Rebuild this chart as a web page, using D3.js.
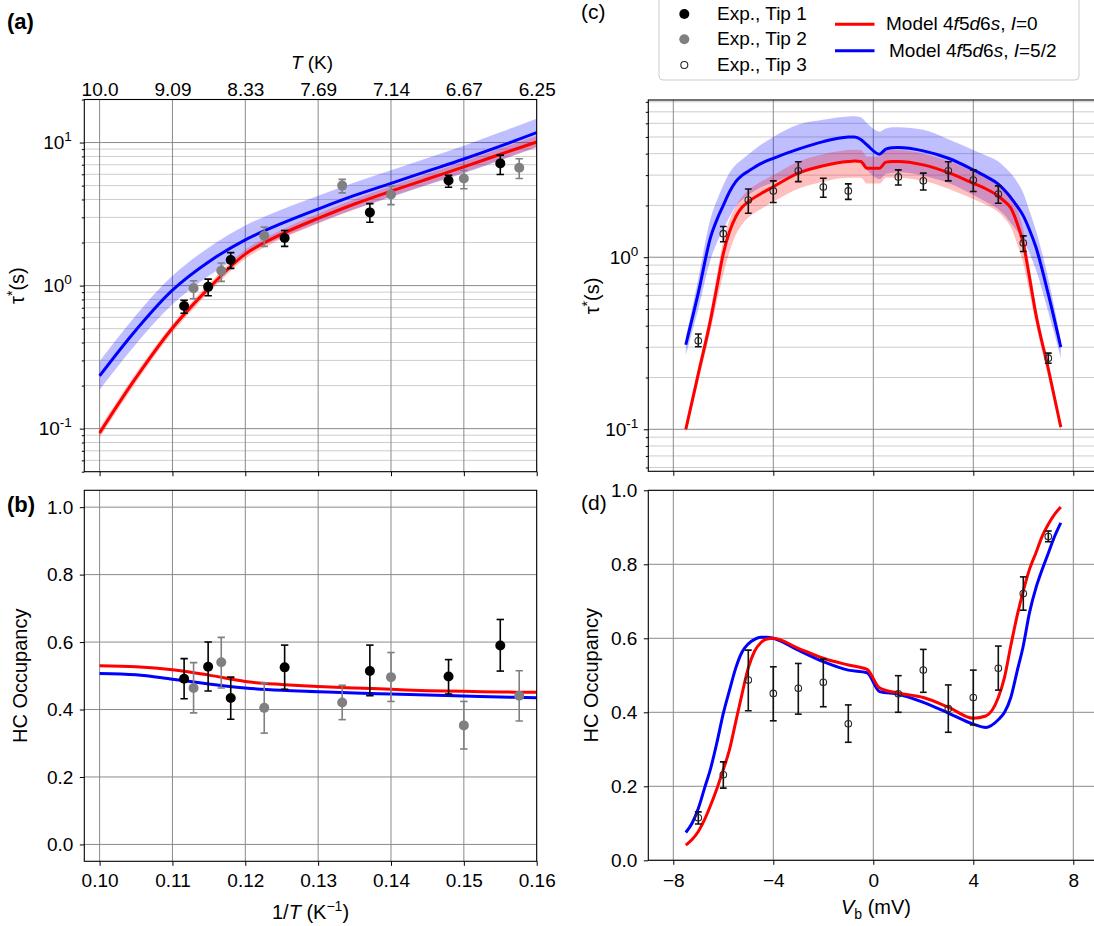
<!DOCTYPE html>
<html>
<head>
<meta charset="utf-8">
<script src="https://cdn.jsdelivr.net/npm/d3@7/dist/d3.min.js"></script>
<style>
html,body{margin:0;padding:0;background:#fff;}
svg{display:block;}
text{font-family:"Liberation Sans",Arial,Helvetica,sans-serif;}
</style>
</head>
<body>
<svg width="1094" height="926"></svg>
<script>
// ---------------- DATA ----------------
// Panels (a),(b): experiment vs 1/T
const invT_tip1 = [0.1116, 0.1149, 0.1180, 0.1254, 0.1371, 0.1479, 0.1550];
const tau_tip1    = [0.72, 0.98, 1.51, 2.15, 3.25, 5.43, 7.15];
const tau_tip1_lo = [0.64, 0.85, 1.32, 1.88, 2.77, 4.87, 5.98];
const tau_tip1_hi = [0.79, 1.11, 1.70, 2.43, 3.74, 5.91, 8.17];
const invT_tip2 = [0.1129, 0.1167, 0.1226, 0.1333, 0.1400, 0.1500, 0.1576];
const tau_tip2    = [0.96, 1.27, 2.23, 5.00, 4.33, 5.61, 6.67];
const tau_tip2_lo = [0.81, 1.07, 1.88, 4.45, 3.68, 4.75, 5.61];
const tau_tip2_hi = [1.08, 1.44, 2.57, 5.53, 4.95, 6.38, 7.70];
const occ_tip1    = [0.491, 0.527, 0.434, 0.525, 0.514, 0.498, 0.590];
const occ_tip1_lo = [0.432, 0.455, 0.371, 0.460, 0.441, 0.446, 0.514];
const occ_tip1_hi = [0.551, 0.600, 0.496, 0.591, 0.591, 0.548, 0.667];
const occ_tip2    = [0.464, 0.540, 0.405, 0.421, 0.496, 0.353, 0.441];
const occ_tip2_lo = [0.390, 0.464, 0.330, 0.370, 0.424, 0.283, 0.366];
const occ_tip2_hi = [0.539, 0.614, 0.479, 0.472, 0.569, 0.424, 0.515];

// model vs 1/T
const invT_model = [0.100, 0.105, 0.110, 0.115, 0.120, 0.125, 0.130, 0.135, 0.140, 0.145, 0.150, 0.155, 0.160];
const tauT_I0     = [0.0933, 0.227, 0.505, 0.96, 1.66, 2.29, 2.95, 3.72, 4.57, 5.56, 6.76, 8.28, 10.1];
const tauT_I0_lo  = [0.086, 0.21, 0.47, 0.89, 1.54, 2.12, 2.72, 3.42, 4.20, 5.10, 6.18, 7.55, 9.2];
const tauT_I0_hi  = [0.101, 0.245, 0.54, 1.03, 1.78, 2.46, 3.18, 4.02, 4.95, 6.05, 7.38, 9.08, 11.1];
const tauT_I52    = [0.234, 0.49, 0.93, 1.47, 2.09, 2.72, 3.43, 4.27, 5.19, 6.31, 7.67, 9.44, 11.75];
const tauT_I52_lo = [0.186, 0.39, 0.74, 1.17, 1.67, 2.17, 2.75, 3.42, 4.15, 5.05, 6.10, 7.50, 9.35];
const tauT_I52_hi = [0.295, 0.62, 1.17, 1.85, 2.63, 3.40, 4.25, 5.25, 6.40, 7.80, 9.50, 11.8, 14.7];
const occT_I0  = [0.530, 0.527, 0.518, 0.502, 0.483, 0.474, 0.468, 0.464, 0.460, 0.456, 0.454, 0.452, 0.451];
const occT_I52 = [0.507, 0.503, 0.490, 0.476, 0.464, 0.457, 0.453, 0.449, 0.446, 0.443, 0.440, 0.437, 0.435];

// Panels (c),(d): experiment vs bias
const Vb_tip3 = [-7, -6, -5, -4, -3, -2, -1, 1, 2, 3, 4, 5, 6, 7];
const tau_tip3    = [0.327, 1.37, 2.15, 2.43, 3.18, 2.56, 2.43, 2.93, 2.78, 3.18, 2.81, 2.33, 1.21, 0.259];
const tau_tip3_lo = [0.302, 1.23, 1.80, 2.08, 2.75, 2.23, 2.17, 2.63, 2.46, 2.78, 2.41, 2.06, 1.08, 0.242];
const tau_tip3_hi = [0.358, 1.51, 2.49, 2.78, 3.59, 2.88, 2.67, 3.22, 3.08, 3.59, 3.22, 2.60, 1.33, 0.277];
const occ_tip3    = [0.115, 0.231, 0.487, 0.451, 0.465, 0.481, 0.369, 0.450, 0.514, 0.410, 0.440, 0.519, 0.721, 0.875];
const occ_tip3_lo = [0.098, 0.195, 0.404, 0.377, 0.395, 0.415, 0.319, 0.400, 0.454, 0.346, 0.366, 0.460, 0.676, 0.861];
const occ_tip3_hi = [0.131, 0.266, 0.568, 0.523, 0.532, 0.544, 0.420, 0.499, 0.570, 0.474, 0.514, 0.579, 0.766, 0.890];

// model vs bias (tau)
const Vb_tau = [-7.5, -7, -6.5, -6.25, -6, -5.75, -5.5, -5.25, -5, -4.5, -4, -3, -2, -1, -0.75, -0.5, -0.25, 0.25, 0.5, 0.75, 1, 2, 3, 4, 4.5, 5, 5.25, 5.5, 5.75, 6, 6.25, 6.5, 7, 7.5];
const tauV_I0    = [0.1, 0.21, 0.44, 0.68, 1.05, 1.41, 1.72, 1.95, 2.1, 2.34, 2.57, 3.08, 3.4, 3.6, 3.62, 3.6, 3.29, 3.29, 3.57, 3.6, 3.6, 3.44, 3.1, 2.69, 2.5, 2.27, 2.11, 1.93, 1.58, 1.2, 0.76, 0.47, 0.225, 0.103];
const tauV_I0_lo = [0.095, 0.19, 0.38, 0.56, 0.8, 1.08, 1.35, 1.55, 1.7, 1.9, 2.1, 2.5, 2.75, 2.9, 2.9, 2.9, 2.68, 2.68, 2.9, 2.9, 2.9, 2.78, 2.5, 2.18, 2.02, 1.83, 1.68, 1.5, 1.2, 0.92, 0.62, 0.41, 0.2, 0.097];
const tauV_I0_hi = [0.108, 0.23, 0.5, 0.8, 1.25, 1.65, 1.98, 2.25, 2.45, 2.75, 3.0, 3.6, 3.97, 4.2, 4.22, 4.2, 3.85, 3.85, 4.15, 4.2, 4.2, 4.0, 3.62, 3.15, 2.92, 2.66, 2.5, 2.3, 1.9, 1.45, 0.88, 0.52, 0.24, 0.108];
const tauV_I52    = [0.31, 0.62, 1.32, 1.66, 2.0, 2.4, 2.75, 2.99, 3.16, 3.5, 3.76, 4.25, 4.7, 4.99, 5.0, 4.84, 4.49, 3.97, 4.25, 4.33, 4.34, 4.15, 3.76, 3.22, 2.95, 2.66, 2.45, 2.22, 1.98, 1.74, 1.44, 1.15, 0.61, 0.30];
const tauV_I52_lo = [0.27, 0.5, 0.98, 1.22, 1.45, 1.72, 1.98, 2.15, 2.3, 2.55, 2.72, 3.1, 3.4, 3.6, 3.6, 3.5, 3.2, 2.85, 3.05, 3.1, 3.12, 2.98, 2.7, 2.3, 2.1, 1.9, 1.76, 1.58, 1.42, 1.26, 1.05, 0.85, 0.48, 0.26];
const tauV_I52_hi = [0.34, 0.75, 1.7, 2.15, 2.63, 3.1, 3.45, 3.7, 3.95, 4.5, 5.0, 5.9, 6.3, 6.57, 6.6, 6.5, 6.0, 5.37, 5.6, 5.7, 5.7, 5.5, 4.85, 4.2, 3.9, 3.6, 3.35, 3.08, 2.75, 2.36, 1.85, 1.44, 0.75, 0.33];

// model vs bias (occupancy)
const Vb_occ = [-7.5, -7.25, -7, -6.75, -6.5, -6.25, -6, -5.75, -5.5, -5.25, -5, -4.75, -4.5, -4.25, -4, -3, -2, -1, -0.25, 0.25, 1, 2, 3, 4, 4.5, 5, 5.25, 5.5, 5.75, 6, 6.25, 6.5, 6.75, 7, 7.25, 7.5];
const occV_I0  = [0.041, 0.056, 0.078, 0.11, 0.15, 0.195, 0.245, 0.30, 0.375, 0.45, 0.52, 0.565, 0.588, 0.598, 0.60, 0.573, 0.546, 0.528, 0.516, 0.466, 0.452, 0.44, 0.414, 0.384, 0.39, 0.44, 0.495, 0.58, 0.66, 0.728, 0.787, 0.83, 0.875, 0.908, 0.935, 0.955];
const occV_I52 = [0.075, 0.10, 0.14, 0.195, 0.25, 0.32, 0.397, 0.46, 0.52, 0.563, 0.585, 0.597, 0.603, 0.603, 0.60, 0.568, 0.537, 0.514, 0.507, 0.456, 0.449, 0.427, 0.398, 0.368, 0.359, 0.38, 0.40, 0.44, 0.51, 0.58, 0.67, 0.735, 0.785, 0.83, 0.875, 0.912];

// ticks
const invT_ticks = [0.10, 0.11, 0.12, 0.13, 0.14, 0.15, 0.16];
const T_labels = ["10.0", "9.09", "8.33", "7.69", "7.14", "6.67", "6.25"];
const logMajA = [0.1, 1, 10];
const logMinA = [0.05, 0.06, 0.07, 0.08, 0.09, 0.2, 0.3, 0.4, 0.5, 0.6, 0.7, 0.8, 0.9, 2, 3, 4, 5, 6, 7, 8, 9, 20];
const logMajC = [0.1, 1];
const logMinC = [0.06, 0.07, 0.08, 0.09, 0.2, 0.3, 0.4, 0.5, 0.6, 0.7, 0.8, 0.9, 2, 3, 4, 5, 6, 7, 8];
const occTicks = [0.0, 0.2, 0.4, 0.6, 0.8, 1.0];
const VbTicks = [-8, -4, 0, 4, 8];
const tipLabels = ["Exp., Tip 1", "Exp., Tip 2", "Exp., Tip 3"];

// ---------------- DRAWING ----------------
const svg = d3.select("svg");
const FS = 19;
const MAJ = "#8a8a8a", MIN = "#cdcdcd";
const RED = "#ff0000", BLUE = "#0000ff", GRAY = "#808080";

const boxA = {l: 84.3, r: 536.7, t: 99.5, b: 471.7};
const boxB = {l: 84.3, r: 536.7, t: 490.3, b: 861.3};
const boxC = {l: 648.3, r: 1098.3, t: 100, b: 471.3};
const boxD = {l: 648.3, r: 1098.3, t: 490.3, b: 860.3};

const xT = d3.scaleLinear().domain([0.0979, 0.16]).range([boxA.l, boxA.r]);
const yA = d3.scaleLog().domain([0.05, 20]).range([boxA.b, boxA.t]);
const yB = d3.scaleLinear().domain([-0.05, 1.05]).range([boxB.b, boxB.t]);
const xV = d3.scaleLinear().domain([-9, 9]).range([boxC.l, boxC.r]);
const yC = d3.scaleLog().domain([0.057, 8.2]).range([boxC.b, boxC.t]);
const yD = d3.scaleLinear().domain([0, 1]).range([boxD.b, boxD.t]);

function makePanel(id, box) {
  svg.append("clipPath").attr("id", id).append("rect")
    .attr("x", box.l).attr("y", box.t).attr("width", box.r - box.l).attr("height", box.b - box.t);
  return svg.append("g").attr("clip-path", `url(#${id})`);
}
function hgrid(g, box, scale, vals, color) {
  g.append("g").selectAll("line").data(vals).join("line")
    .attr("x1", box.l).attr("x2", box.r)
    .attr("y1", d => scale(d)).attr("y2", d => scale(d))
    .attr("stroke", color).attr("stroke-width", 1);
}
function vgrid(g, box, scale, vals, color) {
  g.append("g").selectAll("line").data(vals).join("line")
    .attr("y1", box.t).attr("y2", box.b)
    .attr("x1", d => scale(d)).attr("x2", d => scale(d))
    .attr("stroke", color).attr("stroke-width", 1);
}
function band(g, xs, lo, hi, xs_, ys_, color, cv) {
  const area = d3.area().x(i => xs_(xs[i])).y0(i => ys_(lo[i])).y1(i => ys_(hi[i])).curve(cv);
  g.append("path").datum(d3.range(xs.length)).attr("d", area).attr("fill", color).attr("fill-opacity", 0.25).attr("stroke", "none");
}
function curve(g, xs, ys, xs_, ys_, color, cv) {
  const line = d3.line().x(i => xs_(xs[i])).y(i => ys_(ys[i])).curve(cv);
  g.append("path").datum(d3.range(xs.length)).attr("d", line).attr("fill", "none")
    .attr("stroke", color).attr("stroke-width", 3);
}
function errbars(g, xs, ys, lo, hi, xs_, ys_, color, cap, r, open) {
  const idx = d3.range(xs.length);
  const eg = g.append("g").attr("stroke", color).attr("stroke-width", 1.6);
  eg.selectAll(".v").data(idx).join("line")
    .attr("x1", i => xs_(xs[i])).attr("x2", i => xs_(xs[i]))
    .attr("y1", i => ys_(lo[i])).attr("y2", i => ys_(hi[i]));
  eg.selectAll(".cl").data(idx).join("line")
    .attr("x1", i => xs_(xs[i]) - cap).attr("x2", i => xs_(xs[i]) + cap)
    .attr("y1", i => ys_(lo[i])).attr("y2", i => ys_(lo[i]));
  eg.selectAll(".ch").data(idx).join("line")
    .attr("x1", i => xs_(xs[i]) - cap).attr("x2", i => xs_(xs[i]) + cap)
    .attr("y1", i => ys_(hi[i])).attr("y2", i => ys_(hi[i]));
  g.append("g").selectAll("circle").data(idx).join("circle")
    .attr("cx", i => xs_(xs[i])).attr("cy", i => ys_(ys[i])).attr("r", r)
    .attr("fill", open ? "none" : color)
    .attr("stroke", open ? "#2a2a2a" : "none").attr("stroke-width", 1.1);
}
function styleAxis(g) {
  g.select(".domain").remove();
  g.attr("font-size", FS).attr("font-family", null);
  g.selectAll(".tick line").attr("stroke", "#000").attr("stroke-width", 1);
  g.selectAll(".tick text").attr("fill", "#000");
  return g;
}
function supLabels(g) {
  g.selectAll(".tick text").each(function (d) {
    const t = d3.select(this);
    t.text("");
    const e = Math.round(Math.log10(d));
    t.append("tspan").text("10");
    t.append("tspan").attr("font-size", 13.5).attr("dy", "-0.6em").text(e < 0 ? "-" + (-e) : String(e));
  });
}
function frame(box) {
  svg.append("rect").attr("x", box.l).attr("y", box.t).attr("width", box.r - box.l).attr("height", box.b - box.t)
    .attr("fill", "none").attr("stroke", "#000").attr("stroke-width", 1.1);
}
const smooth = d3.curveCatmullRom.alpha(0.5);
const mono = d3.curveMonotoneX;

// ---------- Panel (a) ----------
const gA = makePanel("clipA", boxA);
hgrid(gA, boxA, yA, logMinA, MIN);
hgrid(gA, boxA, yA, logMajA, MAJ);
vgrid(gA, boxA, xT, invT_ticks, MAJ);
band(gA, invT_model, tauT_I52_lo, tauT_I52_hi, xT, yA, BLUE, smooth);
band(gA, invT_model, tauT_I0_lo, tauT_I0_hi, xT, yA, RED, smooth);
curve(gA, invT_model, tauT_I0, xT, yA, RED, smooth);
curve(gA, invT_model, tauT_I52, xT, yA, BLUE, smooth);
errbars(gA, invT_tip1, tau_tip1, tau_tip1_lo, tau_tip1_hi, xT, yA, "#000", 3.7, 5, false);
errbars(gA, invT_tip2, tau_tip2, tau_tip2_lo, tau_tip2_hi, xT, yA, GRAY, 3.7, 5, false);
frame(boxA);
{
  const ga = styleAxis(svg.append("g").attr("transform", `translate(${boxA.l},0)`)
    .call(d3.axisLeft(yA).tickValues(logMajA).tickSize(4.5).tickPadding(8).tickSizeOuter(0)));
  supLabels(ga);
  styleAxis(svg.append("g").attr("transform", `translate(${boxA.l},0)`)
    .call(d3.axisLeft(yA).tickValues(logMinA).tickFormat("").tickSize(2.5).tickSizeOuter(0)));
  styleAxis(svg.append("g").attr("transform", `translate(0,${boxA.b})`)
    .call(d3.axisBottom(xT).tickValues(invT_ticks).tickFormat("").tickSize(4.5).tickSizeOuter(0)));
  styleAxis(svg.append("g").attr("transform", `translate(0,${boxA.t})`)
    .call(d3.axisTop(xT).tickValues(invT_ticks).tickFormat((d, i) => T_labels[i]).tickSize(0).tickPadding(3.5).tickSizeOuter(0)));
  const tl = svg.append("text").attr("x", 312).attr("y", 69).attr("text-anchor", "middle").attr("font-size", FS);
  tl.append("tspan").attr("font-style", "italic").text("T");
  tl.append("tspan").text(" (K)");
  const yl = svg.append("text").attr("transform", `translate(24,${(boxA.t + boxA.b) / 2}) rotate(-90)`)
    .attr("text-anchor", "middle").attr("font-size", 20);
  yl.append("tspan").text("τ");
  yl.append("tspan").attr("font-size", 14).attr("dy", -7).text("*");
  yl.append("tspan").attr("dy", 7).text("(s)");
}

// ---------- Panel (b) ----------
const gB = makePanel("clipB", boxB);
hgrid(gB, boxB, yB, occTicks, MAJ);
vgrid(gB, boxB, xT, invT_ticks, MAJ);
curve(gB, invT_model, occT_I0, xT, yB, RED, smooth);
curve(gB, invT_model, occT_I52, xT, yB, BLUE, smooth);
errbars(gB, invT_tip1, occ_tip1, occ_tip1_lo, occ_tip1_hi, xT, yB, "#000", 3.7, 5, false);
errbars(gB, invT_tip2, occ_tip2, occ_tip2_lo, occ_tip2_hi, xT, yB, GRAY, 3.7, 5, false);
frame(boxB);
{
  styleAxis(svg.append("g").attr("transform", `translate(${boxB.l},0)`)
    .call(d3.axisLeft(yB).tickValues(occTicks).tickFormat(d3.format(".1f")).tickSize(4.5).tickPadding(6.5).tickSizeOuter(0)));
  styleAxis(svg.append("g").attr("transform", `translate(0,${boxB.b})`)
    .call(d3.axisBottom(xT).tickValues(invT_ticks).tickFormat(d3.format(".2f")).tickSize(4.5).tickPadding(7.5).tickSizeOuter(0)));
  const xl = svg.append("text").attr("x", 310.5).attr("y", 919).attr("text-anchor", "middle").attr("font-size", 20);
  xl.append("tspan").text("1/");
  xl.append("tspan").attr("font-style", "italic").text("T");
  xl.append("tspan").text(" (K");
  xl.append("tspan").attr("font-size", 14).attr("dy", -8).text("−1");
  xl.append("tspan").attr("dy", 8).text(")");
  svg.append("text").attr("transform", `translate(27,${(boxB.t + boxB.b) / 2}) rotate(-90)`)
    .attr("text-anchor", "middle").attr("font-size", 20).text("HC Occupancy");
}

// ---------- Panel (c) ----------
const gC = makePanel("clipC", boxC);
hgrid(gC, boxC, yC, logMinC, MIN);
hgrid(gC, boxC, yC, logMajC, MAJ);
vgrid(gC, boxC, xV, VbTicks, MAJ);
band(gC, Vb_tau, tauV_I52_lo, tauV_I52_hi, xV, yC, BLUE, mono);
band(gC, Vb_tau, tauV_I0_lo, tauV_I0_hi, xV, yC, RED, mono);
curve(gC, Vb_tau, tauV_I0, xV, yC, RED, mono);
curve(gC, Vb_tau, tauV_I52, xV, yC, BLUE, mono);
errbars(gC, Vb_tip3, tau_tip3, tau_tip3_lo, tau_tip3_hi, xV, yC, "#111", 3.4, 3.3, true);
frame(boxC);
{
  const gc = styleAxis(svg.append("g").attr("transform", `translate(${boxC.l},0)`)
    .call(d3.axisLeft(yC).tickValues(logMajC).tickSize(4.5).tickPadding(5.5).tickSizeOuter(0)));
  supLabels(gc);
  styleAxis(svg.append("g").attr("transform", `translate(${boxC.l},0)`)
    .call(d3.axisLeft(yC).tickValues(logMinC).tickFormat("").tickSize(2.5).tickSizeOuter(0)));
  styleAxis(svg.append("g").attr("transform", `translate(0,${boxC.b})`)
    .call(d3.axisBottom(xV).tickValues(VbTicks).tickFormat("").tickSize(4.5).tickSizeOuter(0)));
  const yl = svg.append("text").attr("transform", `translate(599,296) rotate(-90)`)
    .attr("text-anchor", "middle").attr("font-size", 20);
  yl.append("tspan").text("τ");
  yl.append("tspan").attr("font-size", 14).attr("dy", -7).text("*");
  yl.append("tspan").attr("dy", 7).text("(s)");
}

// ---------- Panel (d) ----------
const gD = makePanel("clipD", boxD);
hgrid(gD, boxD, yD, occTicks, MAJ);
vgrid(gD, boxD, xV, VbTicks, MAJ);
curve(gD, Vb_occ, occV_I52, xV, yD, BLUE, mono);
curve(gD, Vb_occ, occV_I0, xV, yD, RED, mono);
errbars(gD, Vb_tip3, occ_tip3, occ_tip3_lo, occ_tip3_hi, xV, yD, "#111", 3.4, 3.3, true);
frame(boxD);
{
  styleAxis(svg.append("g").attr("transform", `translate(${boxD.l},0)`)
    .call(d3.axisLeft(yD).tickValues(occTicks).tickFormat(d3.format(".1f")).tickSize(4.5).tickPadding(6.5).tickSizeOuter(0)));
  styleAxis(svg.append("g").attr("transform", `translate(0,${boxD.b})`)
    .call(d3.axisBottom(xV).tickValues(VbTicks).tickFormat(d3.format("d")).tickSize(4.5).tickPadding(8.5).tickSizeOuter(0)));
  const xl = svg.append("text").attr("x", 876).attr("y", 914).attr("text-anchor", "middle").attr("font-size", 20);
  xl.append("tspan").attr("font-style", "italic").text("V");
  xl.append("tspan").attr("font-size", 14).attr("dy", 5).text("b");
  xl.append("tspan").attr("dy", -5).text(" (mV)");
  svg.append("text").attr("transform", `translate(598,${(boxD.t + boxD.b) / 2}) rotate(-90)`)
    .attr("text-anchor", "middle").attr("font-size", 20).text("HC Occupancy");
}

// ---------- Panel labels ----------
svg.append("text").attr("x", 7).attr("y", 29).attr("font-size", 22).attr("font-weight", "bold").text("(a)");
svg.append("text").attr("x", 7).attr("y", 512).attr("font-size", 22).attr("font-weight", "bold").text("(b)");
svg.append("text").attr("x", 581).attr("y", 19).attr("font-size", 21).text("(c)");
svg.append("text").attr("x", 581).attr("y", 510).attr("font-size", 21).text("(d)");

// ---------- Legend ----------
{
  const lg = svg.append("g");
  lg.append("rect").attr("x", 659).attr("y", -10).attr("width", 420).attr("height", 90).attr("rx", 4)
    .attr("fill", "#fff").attr("fill-opacity", 0.85).attr("stroke", "#cccccc").attr("stroke-width", 1);
  const rowsY = [14, 39.3, 65];
  const styles = [
    {fill: "#000", stroke: "none", r: 5},
    {fill: GRAY, stroke: "none", r: 5},
    {fill: "none", stroke: "#2a2a2a", r: 3.5}
  ];
  tipLabels.forEach((lab, i) => {
    lg.append("circle").attr("cx", 684.3).attr("cy", rowsY[i]).attr("r", styles[i].r)
      .attr("fill", styles[i].fill).attr("stroke", styles[i].stroke).attr("stroke-width", 1.1);
    lg.append("text").attr("x", 717).attr("y", rowsY[i] + 5.5).attr("font-size", FS).text(lab);
  });
  const models = [
    {y: 24.3, color: RED, tx: 886, parts: [["Model 4", 0], ["f", 1], ["5", 0], ["d", 1], ["6", 0], ["s", 1], [", ", 0], ["I", 1], ["=0", 0]]},
    {y: 50.7, color: BLUE, tx: 889, parts: [["Model 4", 0], ["f", 1], ["5", 0], ["d", 1], ["6", 0], ["s", 1], [", ", 0], ["I", 1], ["=5/2", 0]]}
  ];
  models.forEach(m => {
    lg.append("line").attr("x1", 835).attr("x2", 874.5).attr("y1", m.y).attr("y2", m.y)
      .attr("stroke", m.color).attr("stroke-width", 3);
    const t = lg.append("text").attr("x", m.tx).attr("y", m.y + 6).attr("font-size", FS).attr("xml:space", "preserve");
    m.parts.forEach(p => t.append("tspan").attr("font-style", p[1] ? "italic" : "normal").text(p[0]));
  });
}
</script>
</body>
</html>
